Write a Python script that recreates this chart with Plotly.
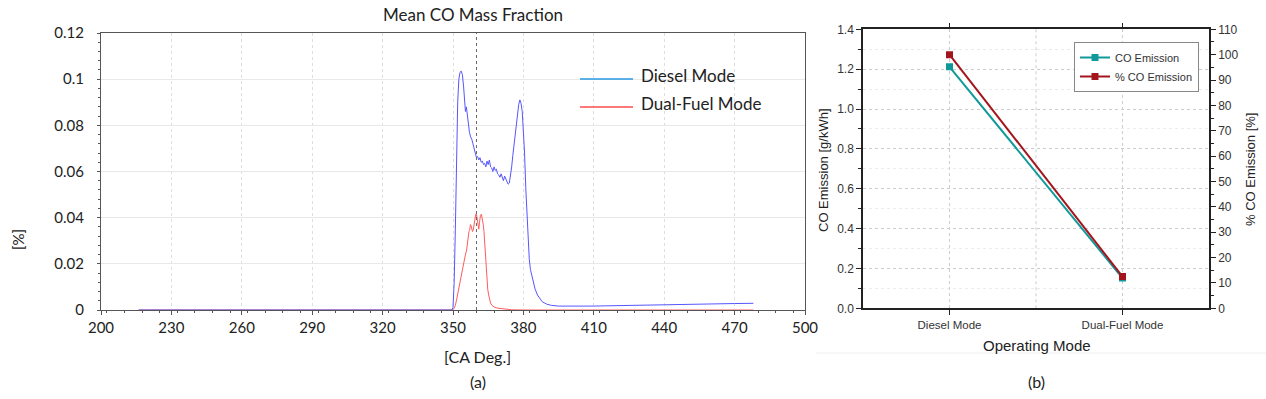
import plotly.graph_objects as go

# ---------------- data: panel (a) ----------------
diesel_ca = [216, 349.5, 350, 350.5, 351, 351.5, 352, 352.5, 353, 353.5, 354, 354.5, 355, 355.3, 355.7,
             356, 356.5, 357, 357.5, 358, 358.5, 359, 359.5, 360, 360.5, 361, 361.5, 362, 362.5, 363,
             363.5, 364, 364.5, 365, 365.5, 366, 366.5, 367, 367.5, 368, 368.5, 369, 369.5, 370, 370.5,
             371, 371.5, 372, 372.5, 373, 373.5, 374, 374.5, 375, 375.5, 376, 376.5, 377, 377.5, 378,
             378.5, 379, 379.5, 380, 380.5, 381, 381.5, 382, 382.5, 383, 384, 385, 386, 387, 388, 390,
             392, 395, 400, 405, 410, 415, 420, 422, 430, 440, 445, 455, 462, 470, 478]
diesel_co = [0, 0, 0.001, 0.012, 0.035, 0.065, 0.09, 0.1, 0.103, 0.1035, 0.102, 0.097, 0.09, 0.086, 0.088,
             0.085, 0.082, 0.077, 0.075, 0.074, 0.072, 0.070, 0.069, 0.066, 0.0665, 0.065, 0.066, 0.064, 0.0645, 0.063,
             0.0635, 0.062, 0.0645, 0.063, 0.065, 0.062, 0.0615, 0.060, 0.062, 0.0605, 0.061, 0.059, 0.0585, 0.0575, 0.059,
             0.057, 0.056, 0.058, 0.0565, 0.055, 0.0545, 0.055, 0.058, 0.062, 0.067, 0.072, 0.077, 0.082, 0.086, 0.089,
             0.091, 0.0895, 0.086, 0.079, 0.068, 0.053, 0.040, 0.029, 0.022, 0.0175, 0.0125, 0.009, 0.0065, 0.0048, 0.0036, 0.0025,
             0.002, 0.0017, 0.0016, 0.0016, 0.0017, 0.0018, 0.0019, 0.0021, 0.0022, 0.0024, 0.0025, 0.0026, 0.0027, 0.0028, 0.0029]

dual_ca = [216, 349.8, 350.5, 351, 351.5, 352, 352.5, 353, 353.5, 354, 354.4, 354.8, 355.2, 355.8, 356.2,
           356.5, 356.8, 357.1, 357.4, 357.7, 358, 358.3, 358.6, 359, 359.3, 359.7, 360.0, 360.3, 360.7, 361.0,
           361.3, 361.7, 362.1, 362.5, 362.9, 363.2, 363.6, 364, 364.4, 364.8, 365.2, 365.6, 366, 366.6, 367.5,
           369, 371, 373, 375, 380, 478]
dual_co = [0, 0, 0.0008, 0.002, 0.0043, 0.007, 0.0095, 0.0116, 0.014, 0.017, 0.0202, 0.022, 0.0235, 0.026, 0.029,
           0.0325, 0.034, 0.0345, 0.037, 0.0365, 0.0355, 0.034, 0.0345, 0.038, 0.040, 0.0415, 0.0415, 0.039, 0.036, 0.035,
           0.038, 0.041, 0.0415, 0.0395, 0.037, 0.034, 0.027, 0.02, 0.014, 0.009, 0.0065, 0.0045, 0.003, 0.002, 0.0013,
           0.0008, 0.0005, 0.0003, 0.0001, 0, 0]

tdc_ca = 360  # dotted reference line
x_ticks_a = [200, 230, 260, 290, 320, 350, 380, 410, 440, 470, 500]
y_ticks_a = [0, 0.02, 0.04, 0.06, 0.08, 0.1, 0.12]
y_ticklabels_a = ["0", "0.02", "0.04", "0.06", "0.08", "0.1", "0.12"]

# ---------------- data: panel (b) ----------------
modes = ["Diesel Mode", "Dual-Fuel Mode"]
co_emission = [1.212, 0.152]          # g/kWh
co_emission_pct = [100.0, 12.5]       # %

# ---------------- figure ----------------
W, H = 1266, 399
def px(x):
    return x / W
def py(y):
    return 1 - y / H

fontA = "Lato, 'Open Sans', sans-serif"
fontB = "'Liberation Sans', Arial, sans-serif"

fig = go.Figure()

fig.add_trace(go.Scatter(x=dual_ca, y=dual_co, mode="lines", line=dict(color="#ff5c5c", width=1),
                         xaxis="x", yaxis="y", showlegend=False, name="Dual-Fuel Mode"))
fig.add_trace(go.Scatter(x=diesel_ca, y=diesel_co, mode="lines", line=dict(color="#5656ff", width=1),
                         xaxis="x", yaxis="y", showlegend=False, name="Diesel Mode"))

fig.add_trace(go.Scatter(x=modes, y=co_emission, mode="lines+markers", name="CO Emission",
                         line=dict(color="#10999a", width=2), marker=dict(symbol="square", size=7, color="#10999a"),
                         xaxis="x2", yaxis="y2"))
fig.add_trace(go.Scatter(x=modes, y=co_emission_pct, mode="lines+markers", name="% CO Emission",
                         line=dict(color="#a3151c", width=2), marker=dict(symbol="square", size=7, color="#a3151c"),
                         xaxis="x2", yaxis="y3"))

axcol_a = "#555555"
fig.update_layout(
    width=W, height=H,
    margin=dict(l=0, r=0, t=0, b=0, autoexpand=False),
    paper_bgcolor="white", plot_bgcolor="white",
    xaxis=dict(domain=[px(101), px(805)], range=[200, 500], tickvals=x_ticks_a, automargin=False,
               showgrid=True, gridcolor="#dedede", griddash="dot", gridwidth=1,
               showline=True, linecolor=axcol_a, linewidth=1, mirror=True,
               ticks="outside", ticklen=4, tickcolor=axcol_a,
               minor=dict(dtick=7.5, ticks="outside", ticklen=2, tickcolor=axcol_a, showgrid=False),
               tickfont=dict(family=fontA, size=15, color="#222"), zeroline=False, anchor="y"),
    yaxis=dict(domain=[py(310), py(33)], range=[0, 0.12], tickvals=y_ticks_a, ticktext=y_ticklabels_a,
               automargin=False,
               showgrid=True, gridcolor="#e8e8e8", gridwidth=1,
               showline=True, linecolor=axcol_a, linewidth=1, mirror=True,
               ticks="outside", ticklen=3, tickcolor=axcol_a,
               minor=dict(dtick=0.004, ticks="outside", ticklen=2, tickcolor=axcol_a, showgrid=False),
               ticklabelstandoff=10,
               tickfont=dict(family=fontA, size=15, color="#222"), zeroline=False, anchor="x"),
    xaxis2=dict(domain=[px(863), px(1209)], type="category", range=[-0.5, 1.5], automargin=False,
                showgrid=True, gridcolor="#cccccc", griddash="dot",
                showline=True, linecolor="#222", linewidth=1.5, mirror="ticks",
                ticks="outside", ticklen=5, tickcolor="#222",
                tickfont=dict(family=fontB, size=11.5, color="#333"), anchor="y2"),
    yaxis2=dict(domain=[py(308.3), py(29.3)], range=[0, 1.4], dtick=0.2, tickformat=".1f", automargin=False,
                showgrid=True, gridcolor="#cccccc", griddash="dot",
                showline=True, linecolor="#222", linewidth=1.5,
                ticks="outside", ticklen=5, tickcolor="#222",
                minor=dict(dtick=0.1, ticks="outside", ticklen=3, tickcolor="#222",
                           showgrid=True, gridcolor="#ececec", griddash="dot"),
                tickfont=dict(family=fontB, size=12, color="#333"), zeroline=False, anchor="x2"),
    yaxis3=dict(overlaying="y2", side="right", range=[0, 110], dtick=10, automargin=False,
                showgrid=False, showline=True, linecolor="#222", linewidth=1.5,
                ticks="outside", ticklen=5, tickcolor="#222",
                minor=dict(dtick=5, ticks="outside", ticklen=3, tickcolor="#222"),
                tickfont=dict(family=fontB, size=12, color="#333"), zeroline=False, anchor="x2"),
    legend=dict(x=px(1199), y=py(42), xanchor="right", yanchor="top",
                bgcolor="white", bordercolor="#888", borderwidth=1,
                font=dict(family=fontB, size=11, color="#333"), tracegroupgap=0, itemwidth=30),
)

shapes = [
    # dotted TDC reference line
    dict(type="line", xref="x", yref="y", x0=tdc_ca, x1=tdc_ca, y0=0, y1=0.12,
         line=dict(color="#666", width=1, dash="dot")),
    # vertical grid at middle of panel b
    dict(type="line", xref="x2", yref="y2 domain", x0=0.5, x1=0.5, y0=0, y1=1,
         line=dict(color="#cccccc", width=1, dash="dot"), layer="below"),
    # custom legend lines panel a
    dict(type="line", xref="paper", yref="paper", x0=px(580), x1=px(633), y0=py(79), y1=py(79),
         line=dict(color="#2a9ae0", width=1.5)),
    dict(type="line", xref="paper", yref="paper", x0=px(580), x1=px(633), y0=py(107), y1=py(107),
         line=dict(color="#ff4d4d", width=1.5)),
    # faint separator under panel b
    dict(type="line", xref="paper", yref="paper", x0=px(816), x1=px(1266), y0=py(353), y1=py(353),
         line=dict(color="#eeeeee", width=1)),
]
fig.update_layout(shapes=shapes)

ann = [
    dict(text="Mean CO Mass Fraction", x=px(473), y=py(14), font=dict(family=fontA, size=17, color="#222")),
    dict(text="Diesel Mode", x=px(639), y=py(75), xanchor="left", font=dict(family=fontA, size=17, color="#222")),
    dict(text="Dual-Fuel Mode", x=px(639), y=py(103), xanchor="left", font=dict(family=fontA, size=17, color="#222")),
    dict(text="[%]", x=px(18), y=py(240), textangle=-90, font=dict(family=fontA, size=15, color="#222")),
    dict(text="[CA Deg.]", x=px(478), y=py(356), font=dict(family=fontA, size=16, color="#222")),
    dict(text="(a)", x=px(478), y=py(381), font=dict(family=fontA, size=16, color="#222")),
    dict(text="CO Emission [g/kWh]", x=px(823), y=py(170), textangle=-90, font=dict(family=fontB, size=13, color="#222")),
    dict(text="% CO Emission [%]", x=px(1250), y=py(170), textangle=-90, font=dict(family=fontB, size=13, color="#222")),
    dict(text="Operating Mode", x=px(1037), y=py(345), font=dict(family=fontB, size=15, color="#222")),
    dict(text="(b)", x=px(1036), y=py(381), font=dict(family=fontA, size=16, color="#222")),
]
for a in ann:
    a.update(xref="paper", yref="paper", showarrow=False)
    a.setdefault("xanchor", "center")
    a.setdefault("yanchor", "middle")
fig.update_layout(annotations=ann)

fig.write_html("out.html", config={"displayModeBar": False},
               post_script="document.body.style.margin='0';document.body.style.overflow='hidden';")
